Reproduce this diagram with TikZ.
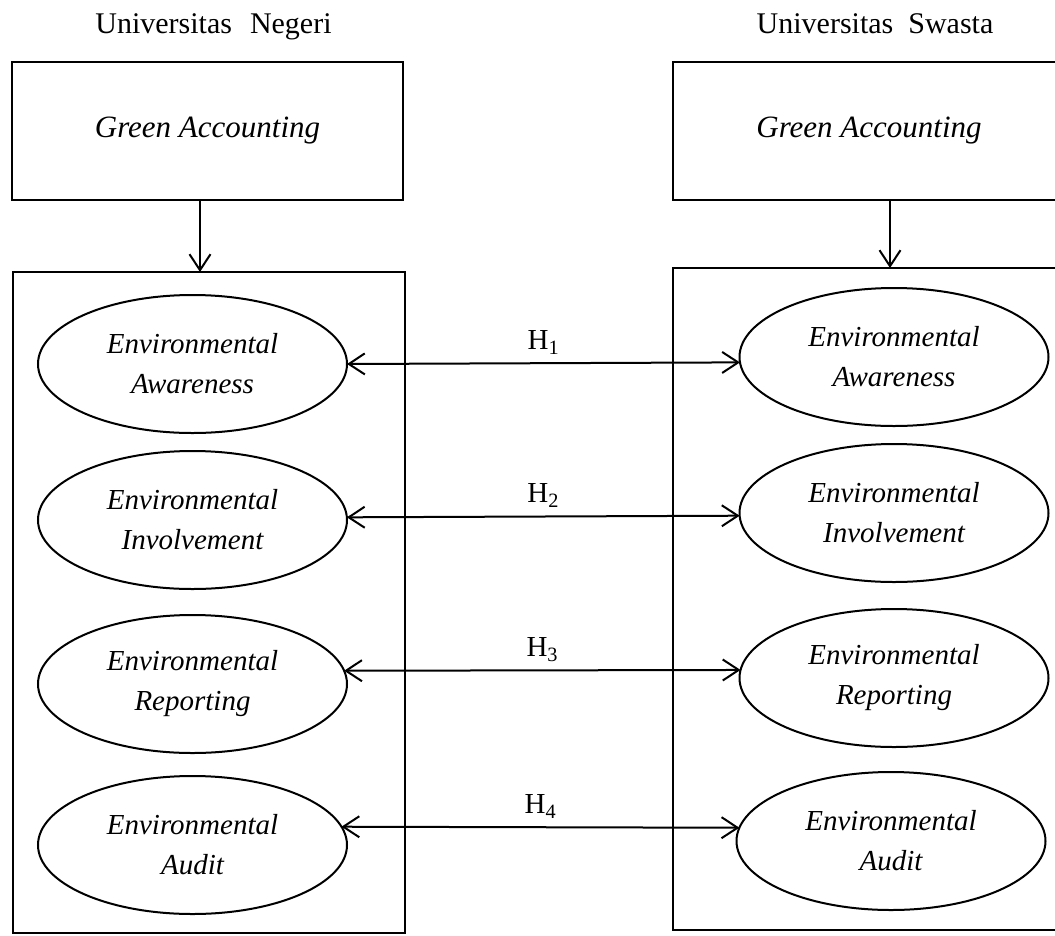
\documentclass[tikz,border=0pt]{standalone}
\usepackage{fontspec}
\setmainfont{Liberation Serif}
\usetikzlibrary{shapes.geometric,arrows.meta}
\begin{document}
\begin{tikzpicture}[x=1pt,y=-1pt,
  every node/.style={inner sep=0pt, outer sep=0pt},
  lw/.style={line width=2pt},
  title/.style={font=\fontsize{30}{36}\selectfont, anchor=base},
  gbox/.style={draw, lw, rectangle, minimum width=391pt, minimum height=138pt, font=\fontsize{31}{38}\selectfont\itshape},
  bigbox/.style={draw, lw, rectangle, minimum width=392pt},
  var/.style={draw, lw, ellipse, minimum width=309pt, minimum height=138pt, align=center, font=\fontsize{29}{40}\selectfont\itshape},
  hyp/.style={font=\fontsize{29}{35}\selectfont, anchor=base, yshift=14pt},
  link/.style={lw, {Straight Barb[length=16pt,width=21pt]}-{Straight Barb[length=16pt,width=21pt]}},
  feed/.style={lw, -{Straight Barb[length=16pt,width=21pt]}}
]
\useasboundingbox (0,0) rectangle (1055,935);
\clip (0,0) rectangle (1055,935);

% titles
\node[title] (tn) at (213.5,33) {Universitas\hspace{0.6em}Negeri};
\node[title] (ts) at (875,33) {Universitas\hspace{0.5em}Swasta};

% top boxes
\node[gbox] (GL) at (207.5,131) {Green Accounting};
\node[gbox, minimum width=392pt] (GR) at (869,131) {Green Accounting};

% big boxes
\node[bigbox, minimum height=661pt] (BL) at (209,602.5) {};
\node[bigbox, minimum height=662pt] (BR) at (869,599) {};

% left variables
\node[var] (L1) at (192.5,364) {Environmental\\Awareness};
\node[var] (L2) at (192.5,520) {Environmental\\Involvement};
\node[var] (L3) at (192.5,684) {Environmental\\Reporting};
\node[var] (L4) at (192.5,845) {Environmental\\Audit};

% right variables
\node[var] (R1) at (894,357) {Environmental\\Awareness};
\node[var] (R2) at (894,513) {Environmental\\Involvement};
\node[var] (R3) at (894,678) {Environmental\\Reporting};
\node[var] (R4) at (891,841) {Environmental\\Audit};

% feed arrows
\draw[feed] ([xshift=-7.5pt]GL.south) -- ([xshift=-9pt]BL.north);
\draw[feed] ([xshift=21pt]GR.south) -- ([xshift=21pt]BR.north);

% hypotheses
\draw[link] (L1.east) -- node[hyp] {H\textsubscript{1}} (R1.182);
\draw[link] (L2.1.5) -- node[hyp] {H\textsubscript{2}} (R2.181);
\draw[link] (L3.5) -- node[hyp] {H\textsubscript{3}} (R3.177);
\draw[link] (L4.7) -- node[hyp] {H\textsubscript{4}} (R4.175);
\end{tikzpicture}
\end{document}
